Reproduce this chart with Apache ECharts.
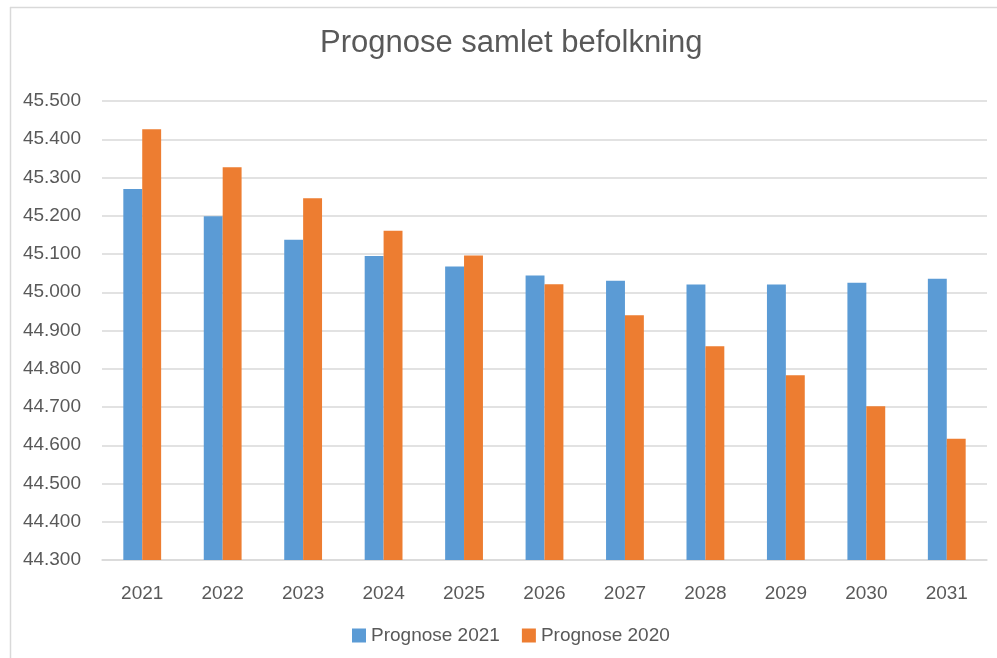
<!DOCTYPE html>
<html>
<head>
<meta charset="utf-8">
<script src="https://cdn.jsdelivr.net/npm/echarts@6/dist/echarts.min.js"></script>
<style>
html,body{margin:0;padding:0;background:#fff;}
#chart{width:997px;height:658px;}
</style>
</head>
<body>
<div id="chart"></div>
<script>
const titleText = 'Prognose samlet befolkning';
const categories = ['2021','2022','2023','2024','2025','2026','2027','2028','2029','2030','2031'];
const seriesNames = ['Prognose 2021','Prognose 2020'];
const prognose2021 = [45270, 45199, 45137, 45095, 45067, 45044, 45030, 45020, 45020, 45025, 45035];
const prognose2020 = [45426, 45327, 45246, 45161, 45096, 45021, 44940, 44859, 44783, 44702, 44617];
const yMin = 44300, yMax = 45500, yStep = 100;

const chart = echarts.init(document.getElementById('chart'), null, {renderer:'canvas'});
const font = 'Liberation Sans, Arial, sans-serif';
chart.setOption({
  animation:false,
  backgroundColor:'#fff',
  title:{
    text:titleText,
    left:315, top:23,
    textStyle:{fontFamily:font, fontSize:31, fontWeight:'normal', color:'#595959'}
  },
  legend:{
    data:seriesNames,
    left:347, top:621,
    itemWidth:14, itemHeight:14, itemGap:22,
    icon:'rect',
    textStyle:{fontFamily:font, fontSize:19, color:'#595959'}
  },
  grid:{left:102, right:10, top:101, bottom:98, containLabel:false},
  xAxis:{
    type:'category', data:categories,
    axisLine:{show:true, lineStyle:{color:'#D9D9D9', width:1.5}},
    axisTick:{show:false},
    axisLabel:{fontFamily:font, fontSize:19, color:'#595959', margin:24}
  },
  yAxis:{
    type:'value', min:yMin, max:yMax, interval:yStep,
    axisLine:{show:false}, axisTick:{show:false},
    splitLine:{lineStyle:{color:'#D9D9D9', width:1.5}},
    axisLabel:{fontFamily:font, fontSize:19, color:'#595959', margin:21,
      formatter:v => (v/1000).toFixed(3)}
  },
  graphic:[
    {type:'line', shape:{x1:10.5,y1:7,x2:10.5,y2:658}, style:{stroke:'#D9D9D9', lineWidth:1.5}},
    {type:'line', shape:{x1:10,y1:7.5,x2:997,y2:7.5}, style:{stroke:'#D9D9D9', lineWidth:1.5}}
  ],
  series:[
    {name:seriesNames[0], type:'bar', data:prognose2021, itemStyle:{color:'#5B9BD5'}, barGap:'0%', barCategoryGap:'53%'},
    {name:seriesNames[1], type:'bar', data:prognose2020, itemStyle:{color:'#ED7D31'}, barGap:'0%', barCategoryGap:'53%'}
  ]
});
</script>
</body>
</html>
